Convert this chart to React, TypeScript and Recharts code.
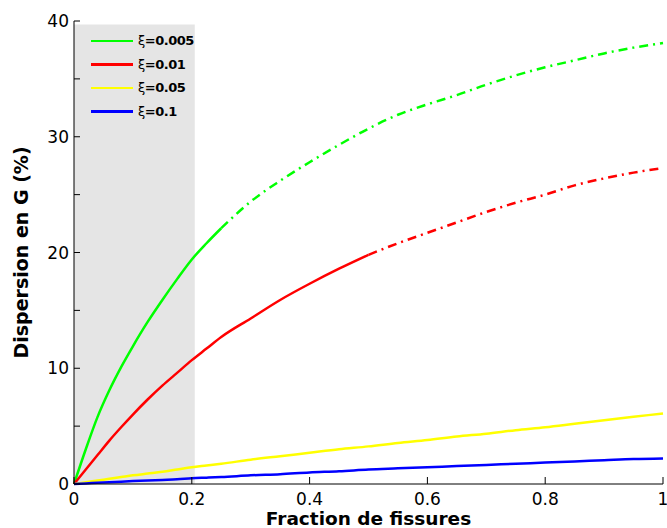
import { Label, Line, LineChart, ReferenceArea, XAxis, YAxis } from 'recharts'

// fraction de fissures (x)
const FRACTION = [
  0, 0.02, 0.04, 0.06, 0.08, 0.1, 0.125, 0.15, 0.175, 0.2, 0.225, 0.25, 0.3, 0.35, 0.4,
  0.45, 0.5, 0.55, 0.6, 0.65, 0.7, 0.75, 0.8, 0.85, 0.9, 0.95, 1,
]

// dispersion en G (%) per damping ratio
const XI_0005 = [
  0, 3.0, 5.8, 8.1, 10.1, 11.9, 14.0, 15.9, 17.7, 19.4, 20.8, 22.1, 24.4, 26.2, 27.8,
  29.3, 30.7, 31.9, 32.8, 33.6, 34.5, 35.3, 36.0, 36.6, 37.2, 37.7, 38.1,
]
const XI_001 = [
  0, 1.25, 2.5, 3.75, 4.9, 6.0, 7.3, 8.5, 9.6, 10.7, 11.7, 12.7, 14.3, 15.9, 17.3,
  18.6, 19.8, 20.8, 21.7, 22.6, 23.5, 24.3, 25.0, 25.8, 26.4, 26.9, 27.3,
]
const XI_005 = [
  0, 0.15, 0.3, 0.45, 0.6, 0.75, 0.9, 1.05, 1.25, 1.45, 1.6, 1.75, 2.1, 2.4, 2.7,
  3.0, 3.25, 3.55, 3.8, 4.1, 4.35, 4.65, 4.9, 5.2, 5.5, 5.8, 6.1,
]
const XI_01 = [
  0, 0.05, 0.1, 0.15, 0.2, 0.25, 0.3, 0.35, 0.4, 0.5, 0.55, 0.6, 0.75, 0.85, 1.0,
  1.1, 1.25, 1.35, 1.45, 1.55, 1.65, 1.75, 1.85, 1.95, 2.05, 2.15, 2.2,
]

// where the solid part of a curve stops and the dash-dot part starts
const GREEN_SOLID_END = 0.25
const RED_SOLID_END = 0.5

const SHADED_END = 0.205
const SHADED_TOP = 39.7

const X_TICKS = [0, 0.2, 0.4, 0.6, 0.8, 1]
const Y_TICKS = [0, 5, 10, 15, 20, 25, 30, 35, 40]

const SERIES = [
  { label: '0.005', color: '#00ff00' },
  { label: '0.01', color: '#ff0000' },
  { label: '0.05', color: '#ffff00' },
  { label: '0.1', color: '#0000ff' },
]

const FONT = '"DejaVu Sans", Verdana, sans-serif'
const DASH_DOT = '9 5 2 5'

const data = FRACTION.map((x, i) => ({
  x,
  g: x <= GREEN_SOLID_END ? XI_0005[i] : null,
  gd: x >= GREEN_SOLID_END ? XI_0005[i] : null,
  r: x <= RED_SOLID_END ? XI_001[i] : null,
  rd: x >= RED_SOLID_END ? XI_001[i] : null,
  y: XI_005[i],
  b: XI_01[i],
}))

const YTick = (props: any) => {
  const { x, y, payload } = props
  const v = payload.value as number
  return (
    <g>
      <line x1={x} x2={x + 6} y1={y} y2={y} stroke="#000" strokeWidth={1} />
      {v % 10 === 0 && (
        <text x={x - 5} y={y} dy={6} textAnchor="end" fontSize={17} fontFamily={FONT} fill="#000">
          {v}
        </text>
      )}
    </g>
  )
}

const XTick = (props: any) => {
  const { x, y, payload } = props
  return (
    <g>
      <line x1={x} x2={x} y1={y} y2={y - 7} stroke="#000" strokeWidth={1} />
      <text x={x} y={y + 21} textAnchor="middle" fontSize={17} fontFamily={FONT} fill="#000">
        {String(payload.value)}
      </text>
    </g>
  )
}

const LegendBox = () => (
  <div style={{ position: 'absolute', left: 91, top: 29, fontFamily: FONT }}>
    {SERIES.map((s) => (
      <div key={s.label} style={{ display: 'flex', alignItems: 'center', height: 23.5 }}>
        <span style={{ display: 'inline-block', width: 42, height: 2.5, background: s.color }} />
        <span style={{ marginLeft: 5, fontSize: 13, color: '#000', letterSpacing: -0.5 }}>
          ξ<b>=</b>
          <b>{s.label}</b>
        </span>
      </div>
    ))}
  </div>
)

export default function App() {
  return (
    <div style={{ position: 'absolute', left: 0, top: 0, width: 667, height: 528 }}>
      <LineChart width={667} height={528} data={data} margin={{ top: 21, right: 4, left: 0, bottom: 0 }}>
        <ReferenceArea x1={0} x2={SHADED_END} y1={0} y2={SHADED_TOP} fill="#e5e5e5" fillOpacity={1} stroke="none" />
        <XAxis
          dataKey="x"
          type="number"
          domain={[0, 1]}
          ticks={X_TICKS}
          height={44}
          tickSize={0}
          tickMargin={0}
          tickLine={false}
          tick={<XTick />}
          axisLine={{ stroke: '#000' }}
        >
          <Label
            content={(p: any) => {
              const vb = p.viewBox
              return (
                <text
                  x={vb.x + vb.width / 2}
                  y={vb.y + 40.5}
                  textAnchor="middle"
                  fontSize={18.5}
                  fontWeight="bold"
                  fontFamily={FONT}
                  fill="#000"
                >
                  Fraction de fissures
                </text>
              )
            }}
          />
        </XAxis>
        <YAxis
          type="number"
          domain={[0, 40]}
          ticks={Y_TICKS}
          width={74}
          tickSize={0}
          tickMargin={0}
          tickLine={false}
          tick={<YTick />}
          axisLine={{ stroke: '#000' }}
        >
          <Label
            content={(p: any) => {
              const vb = p.viewBox
              const cx = vb.x + 21
              const cy = vb.y + vb.height / 2
              return (
                <text
                  x={cx}
                  y={cy}
                  transform={`rotate(-90 ${cx} ${cy})`}
                  textAnchor="middle"
                  dominantBaseline="central"
                  fontSize={19}
                  fontWeight="bold"
                  fontFamily={FONT}
                  fill="#000"
                >
                  Dispersion en G (%)
                </text>
              )
            }}
          />
        </YAxis>
        <Line type="monotone" dataKey="g" stroke="#00ff00" strokeWidth={2.5} dot={false} isAnimationActive={false} />
        <Line type="monotone" dataKey="gd" stroke="#00ff00" strokeWidth={2.5} strokeDasharray={DASH_DOT} dot={false} isAnimationActive={false} />
        <Line type="monotone" dataKey="r" stroke="#ff0000" strokeWidth={2.5} dot={false} isAnimationActive={false} />
        <Line type="monotone" dataKey="rd" stroke="#ff0000" strokeWidth={2.5} strokeDasharray={DASH_DOT} dot={false} isAnimationActive={false} />
        <Line type="monotone" dataKey="y" stroke="#ffff00" strokeWidth={2.5} dot={false} isAnimationActive={false} />
        <Line type="monotone" dataKey="b" stroke="#0000ff" strokeWidth={2.5} dot={false} isAnimationActive={false} />
      </LineChart>
      <LegendBox />
    </div>
  )
}
